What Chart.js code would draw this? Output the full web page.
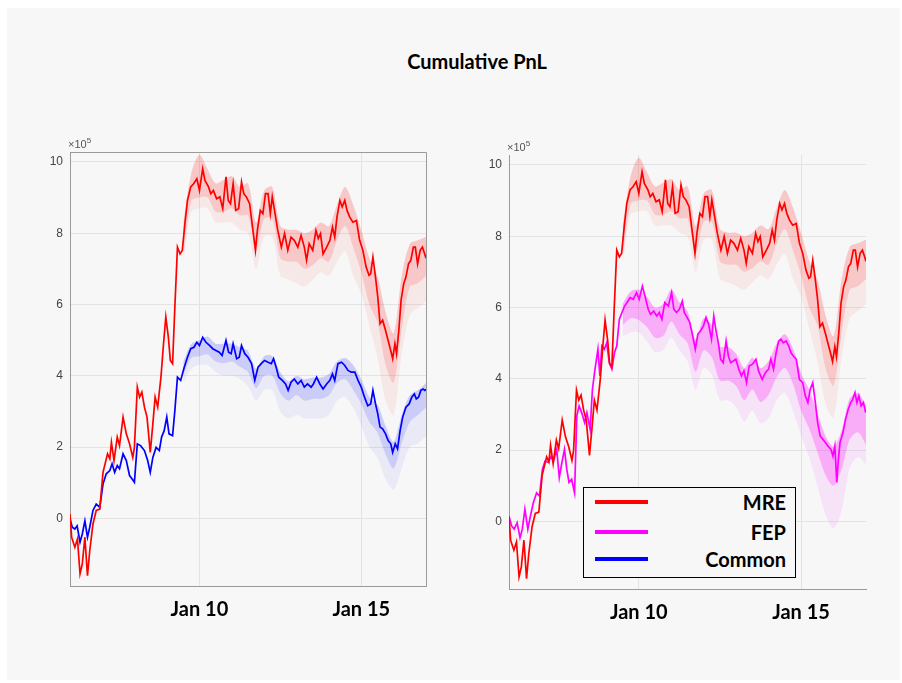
<!DOCTYPE html>
<html>
<head>
<meta charset="utf-8">
<script src="https://cdn.jsdelivr.net/npm/chart.js@4.4.1/dist/chart.umd.min.js"></script>
<style>
    body { margin: 0; background: #fff; width: 902px; height: 683px; position: relative; overflow: hidden; font-family: Lato, "Open Sans", sans-serif; }
    #card { position: absolute; left: 7px; top: 8px; width: 893px; height: 672px; background: #f7f7f7; }
    #title { position: absolute; left: 477px; top: 49px; transform: translateX(-50%); font-weight: bold; font-size: 20px; color: #000; white-space: nowrap; }
    canvas { position: absolute; }
    #leftChart { left: 30px; top: 130px; }
    #rightChart { left: 469px; top: 133px; }
    #legend { position: absolute; left: 583px; top: 487px; width: 213px; height: 91px; box-sizing: border-box; border: 1px solid #000; background: #f7f7f7; }
    #legend .row { position: absolute; left: 0; right: 0; height: 24px; }
    #legend .swatch { position: absolute; left: 11px; top: 10px; width: 53px; height: 4px; }
    #legend .lab { position: absolute; right: 9px; top: 0; line-height: 24px; font-weight: bold; font-size: 20px; color: #000; }
</style>
</head>
<body>
<div id="card"></div>
<div id="title">Cumulative PnL</div>
<canvas id="leftChart" width="410" height="500"></canvas>
<canvas id="rightChart" width="411" height="500"></canvas>
<div id="legend">
    <div class="row" style="top:2px"><span class="swatch" style="background:#ff0000"></span><span class="lab">MRE</span></div>
    <div class="row" style="top:32px"><span class="swatch" style="background:#ff00ff"></span><span class="lab">FEP</span></div>
    <div class="row" style="top:59px"><span class="swatch" style="background:#0000ff"></span><span class="lab">Common</span></div>
</div>
<script>
// values in units of 1e5, x in days of January
const xTickDays = [10, 15];
const xTickLabels = ['Jan 10', 'Jan 15'];
const yTickVals = [0, 2, 4, 6, 8, 10];

const mreDays = [6.00,6.05,6.15,6.23,6.31,6.38,6.46,6.54,6.61,6.71,6.81,6.92,7.02,7.16,7.23,7.28,7.36,7.46,7.53,7.64,
    7.74,7.84,7.94,7.99,8.08,8.15,8.22,8.30,8.38,8.48,8.56,8.63,8.71,8.81,8.89,8.96,9.04,9.10,9.17,9.24,
    9.32,9.40,9.47,9.55,9.63,9.73,9.82,9.92,10.00,10.10,10.17,10.28,10.35,10.43,10.53,10.63,10.72,10.82,10.89,10.96,
    11.04,11.12,11.21,11.30,11.37,11.45,11.55,11.64,11.73,11.79,11.88,11.96,12.04,12.12,12.19,12.25,12.32,12.42,12.53,12.63,
    12.73,12.83,12.93,13.04,13.14,13.24,13.31,13.39,13.50,13.60,13.67,13.74,13.82,13.93,14.03,14.11,14.18,14.25,14.34,14.41,
    14.49,14.56,14.64,14.74,14.85,14.95,15.05,15.15,15.24,15.29,15.36,15.44,15.51,15.58,15.66,15.75,15.83,15.91,15.97,16.04,
    16.09,16.16,16.23,16.31,16.38,16.46,16.53,16.61,16.67,16.74,16.82,16.89,16.96,17.00];
const mreVals = [0.12,-0.53,-0.81,-0.58,-1.56,-1.28,-0.53,-1.61,-0.91,-0.16,0.22,0.26,1.29,1.81,1.67,2.13,1.62,2.28,2.04,2.84,
    2.37,2.09,1.71,1.99,3.68,3.40,3.54,3.12,2.84,1.85,2.65,3.40,3.12,3.96,4.90,5.65,5.08,4.43,4.34,5.93,
    7.61,7.42,7.52,8.27,8.92,9.30,9.39,9.53,9.20,9.81,9.48,9.30,9.11,9.20,8.97,9.02,8.69,9.58,8.92,8.83,
    9.39,8.64,8.69,9.44,9.11,9.02,8.83,8.17,7.52,8.08,8.64,8.55,9.11,9.11,8.55,9.02,8.64,8.08,7.61,7.99,
    7.52,7.89,7.80,7.61,7.94,7.61,7.24,7.71,7.52,8.08,7.85,7.99,7.42,7.61,7.80,8.17,7.89,8.46,8.92,8.74,
    8.92,8.64,8.46,8.31,8.36,7.80,7.52,7.05,6.82,6.86,7.33,6.77,6.21,5.46,5.56,5.27,4.99,4.71,4.48,4.90,
    4.62,5.27,6.12,6.58,6.77,7.14,7.24,7.61,7.61,7.14,7.52,7.61,7.42,7.30];

const commonDays = [6.00,6.07,6.15,6.22,6.31,6.38,6.46,6.54,6.61,6.71,6.81,6.92,7.02,7.12,7.23,7.30,7.38,7.46,7.53,7.64,
    7.74,7.84,7.92,7.99,8.08,8.18,8.30,8.40,8.48,8.56,8.66,8.76,8.83,8.91,8.99,9.06,9.17,9.24,9.32,9.42,
    9.53,9.63,9.73,9.83,9.92,10.00,10.10,10.20,10.31,10.41,10.51,10.61,10.70,10.82,10.90,10.98,11.04,11.15,11.23,11.30,
    11.40,11.50,11.61,11.71,11.81,11.91,12.01,12.12,12.22,12.29,12.37,12.45,12.56,12.66,12.74,12.83,12.93,13.04,13.14,13.24,
    13.34,13.45,13.52,13.62,13.72,13.82,13.93,14.03,14.11,14.18,14.28,14.39,14.49,14.59,14.69,14.80,14.90,15.00,15.10,15.20,
    15.29,15.36,15.44,15.51,15.58,15.66,15.75,15.83,15.91,15.97,16.05,16.12,16.20,16.28,16.38,16.48,16.56,16.64,16.70,16.77,
    16.84,16.91,16.96,17.00];
const commonVals = [-0.02,-0.25,-0.30,-0.21,-0.67,-0.44,-0.07,-0.53,-0.25,0.22,0.40,0.31,0.96,1.25,1.34,1.53,1.29,1.48,1.39,1.81,
    1.62,1.20,1.10,1.01,2.09,2.04,1.90,1.62,1.29,1.71,1.99,1.90,2.28,2.46,2.84,2.37,2.32,3.02,3.96,3.87,
    4.24,4.52,4.76,4.80,4.94,4.85,5.08,4.94,4.85,4.76,4.71,4.66,4.57,4.99,4.66,4.62,4.90,4.48,4.52,4.85,
    4.62,4.52,4.34,3.87,4.24,4.34,4.43,4.38,4.34,4.48,4.24,3.96,3.87,3.77,3.59,3.82,3.91,3.77,3.87,3.68,
    3.77,3.68,3.77,3.96,3.77,3.63,3.77,3.87,4.05,3.87,4.34,4.38,4.29,4.15,4.10,4.10,3.87,3.68,3.40,3.16,
    3.21,3.59,3.21,2.93,2.56,2.51,2.37,2.18,2.09,1.85,2.09,1.95,2.46,2.84,3.12,3.21,3.40,3.49,3.35,3.40,
    3.59,3.63,3.59,3.62];

const fepDays = [6.00,6.08,6.16,6.25,6.34,6.41,6.49,6.58,6.66,6.75,6.85,6.94,7.03,7.11,7.21,7.30,7.37,7.47,7.55,7.63,
    7.71,7.78,7.85,7.93,8.02,8.09,8.16,8.24,8.33,8.40,8.50,8.57,8.65,8.74,8.80,8.86,8.94,9.01,9.09,9.17,
    9.25,9.32,9.40,9.48,9.56,9.64,9.73,9.83,9.93,10.01,10.11,10.19,10.29,10.36,10.46,10.55,10.63,10.71,10.80,10.91,
    11.01,11.08,11.16,11.25,11.34,11.40,11.49,11.57,11.66,11.74,11.82,11.90,11.99,12.07,12.15,12.24,12.31,12.38,12.45,12.52,
    12.60,12.69,12.76,12.83,12.91,12.99,13.08,13.16,13.24,13.32,13.40,13.50,13.61,13.69,13.80,13.90,14.00,14.07,14.15,14.23,
    14.31,14.38,14.45,14.54,14.62,14.69,14.76,14.85,14.95,15.05,15.13,15.21,15.28,15.36,15.44,15.51,15.59,15.67,15.75,15.83,
    15.92,15.98,16.04,16.10,16.14,16.20,16.29,16.37,16.45,16.53,16.59,16.66,16.72,16.78,16.85,16.92,16.99];
const fepVals = [0.15,-0.13,-0.22,-0.04,-0.46,-0.22,0.34,-0.22,0.15,0.52,0.80,0.71,1.46,1.69,1.65,1.83,1.69,2.02,1.23,1.65,
    2.02,1.46,1.09,1.18,0.80,2.96,3.24,3.05,2.77,3.05,2.58,3.70,4.27,4.83,4.08,4.92,4.83,5.01,4.45,4.27,
    4.73,4.92,5.67,5.86,6.04,6.14,6.28,6.23,6.42,6.23,6.60,6.32,5.95,5.81,5.90,5.76,5.86,5.67,6.14,6.04,
    6.42,5.95,5.86,5.95,6.18,5.86,5.72,5.58,5.20,4.83,5.25,5.34,5.48,5.72,5.53,5.11,5.76,5.34,5.01,4.55,
    4.45,5.06,4.64,4.45,4.50,4.55,4.27,4.08,4.22,3.89,4.36,4.41,4.55,4.22,3.98,4.17,4.27,4.55,4.27,4.73,
    5.06,5.11,5.01,5.06,4.92,4.73,4.64,4.55,3.98,3.89,3.52,3.33,3.70,3.89,3.33,2.77,2.39,2.30,2.21,2.11,
    2.02,1.83,2.11,1.09,1.65,2.21,2.49,2.86,3.14,3.33,3.42,3.61,3.33,3.52,3.24,3.33,3.05];

// confidence bands (inner hi/lo, outer lo)
const bandDays = [9.5,9.75,10,10.25,10.5,10.75,11,11.25,11.5,11.75,12,12.25,12.5,12.75,13,13.25,13.5,13.75,14,14.25,
    14.5,14.75,15,15.25,15.5,15.75,16,16.25,16.5,16.75,17];
const mreHi = [8.3,9.7,10.2,9.8,9.4,9.5,9.6,9.3,9.4,8.3,9.2,9.3,8.2,8.1,8.1,8.0,8.1,8.3,8.2,8.8,9.3,8.8,8.1,7.3,6.8,5.8,5.2,6.8,7.7,7.8,7.9];
const mreLo = [7.4,8.9,9.0,9.0,8.6,8.6,8.7,8.5,8.5,7.5,8.4,8.4,7.3,7.2,7.2,7.0,7.1,7.3,7.2,7.8,8.2,7.6,6.9,6.0,5.5,4.3,3.8,5.3,6.5,6.6,6.8];
const mreLo2 = [7.2,8.6,8.7,8.7,8.3,8.3,8.3,8.1,8.0,7.0,7.9,7.9,6.8,6.7,6.6,6.5,6.7,6.9,6.8,7.2,7.5,6.8,6.3,5.4,4.5,3.3,2.9,4.6,5.7,5.9,6.1];
const commonHi = [4.4,4.9,5.0,5.1,4.9,4.9,4.9,4.8,4.7,4.2,4.55,4.55,4.1,3.85,4.0,3.9,3.95,3.95,4.05,4.4,4.5,4.3,3.9,3.4,3.2,2.6,2.15,2.9,3.45,3.6,3.8];
const commonLo = [4.0,4.5,4.55,4.6,4.4,4.35,4.4,4.25,4.1,3.65,4.0,4.0,3.5,3.3,3.45,3.3,3.35,3.35,3.45,3.8,3.9,3.6,3.2,2.7,2.4,1.8,1.4,2.1,2.7,2.9,3.1];
const commonLo2 = [3.8,4.2,4.3,4.3,4.1,4.0,4.0,3.9,3.7,3.3,3.6,3.6,3.0,2.8,2.9,2.8,2.8,2.8,2.9,3.3,3.4,3.1,2.6,2.0,1.7,1.1,0.8,1.4,2.0,2.1,2.3];
const fepHi = [6.1,6.45,6.5,6.3,6.0,6.1,6.5,6.15,5.9,5.1,5.7,5.5,4.9,4.9,4.7,4.3,4.6,4.3,4.5,5.0,5.25,4.85,4.15,3.7,3.05,2.4,2.1,2.55,3.45,3.6,3.25];
const fepLo = [5.5,5.7,5.65,5.45,5.15,5.2,5.6,5.25,5.0,4.2,4.8,4.6,3.95,3.95,3.8,3.4,3.7,3.35,3.55,4.05,4.3,3.85,3.1,2.6,1.95,1.3,1.0,1.45,2.3,2.5,2.15];
const fepLo2 = [5.2,5.3,5.3,5.05,4.75,4.8,5.15,4.8,4.5,3.7,4.3,4.1,3.4,3.4,3.2,2.8,3.1,2.75,2.9,3.4,3.6,3.1,2.4,1.8,1.0,0.2,-0.2,0.3,1.5,1.8,1.6];

const xMin = 6.0, xMax = 17.0, yMin = -1.9, yMax = 10.28;
const axisColor = '#9a9a9a';
const gridColor = '#e3e3e3';

function pts(days, vals) {
    return days.map((d, i) => ({ x: d, y: vals[i] }));
}

function lineSet(days, vals, color) {
    return { data: pts(days, vals), borderColor: color, borderWidth: 1.7, pointRadius: 0, fill: false, tension: 0 };
}

function bandSets(hi, lo, lo2, inner, outer) {
    const base = { borderWidth: 0, pointRadius: 0, tension: 0.3 };
    return [
        { ...base, data: pts(bandDays, hi), fill: false },
        { ...base, data: pts(bandDays, lo2), fill: '-1', backgroundColor: outer },
        { ...base, data: pts(bandDays, lo), fill: '-2', backgroundColor: inner }
    ];
}

const framePlugin = {
    id: 'frame',
    afterDraw(chart, args, opts) {
        const { ctx, chartArea: a } = chart;
        ctx.save();
        if (opts.box) {
            ctx.strokeStyle = axisColor;
            ctx.lineWidth = 1;
            ctx.beginPath();
            ctx.moveTo(a.left, a.top + 0.5);
            ctx.lineTo(a.right + 0.5, a.top + 0.5);
            ctx.lineTo(a.right + 0.5, a.bottom);
            ctx.stroke();
        }
        ctx.fillStyle = '#555';
        ctx.font = '11px "Liberation Sans"';
        ctx.fillText('×10', a.left - 2, a.top - 4);
        const w = ctx.measureText('×10').width;
        ctx.font = '8px "Liberation Sans"';
        ctx.fillText('5', a.left - 2 + w, a.top - 9);
        ctx.restore();
    }
};

function makePanel(id, datasets, box) {
    return new Chart(document.getElementById(id), {
        type: 'line',
        data: { datasets: datasets },
        options: {
            responsive: false,
            animation: false,
            layout: { padding: { top: 22, right: 14, left: 0, bottom: 0 } },
            plugins: { legend: { display: false }, tooltip: { enabled: false }, frame: { box: box } },
            scales: {
                x: {
                    type: 'linear', min: xMin, max: xMax,
                    afterBuildTicks: s => { s.ticks = xTickDays.map(v => ({ value: v })); },
                    afterFit: s => { s.height = 44; },
                    grid: { color: gridColor, drawTicks: false },
                    border: { color: axisColor, width: 1 },
                    ticks: {
                        padding: 12, maxRotation: 0, color: '#000',
                        font: { family: 'Lato', weight: 'bold', size: 20 },
                        callback: v => xTickLabels[xTickDays.indexOf(v)]
                    }
                },
                y: {
                    type: 'linear', min: yMin, max: yMax,
                    afterBuildTicks: s => { s.ticks = yTickVals.map(v => ({ value: v })); },
                    afterFit: s => { s.width = 40; },
                    grid: { color: gridColor, drawTicks: false },
                    border: { color: axisColor, width: 1 },
                    ticks: { padding: 7, color: '#444', font: { family: 'Liberation Sans', size: 12 }, callback: v => v }
                }
            }
        },
        plugins: [framePlugin]
    });
}

makePanel('leftChart', [
    lineSet(mreDays, mreVals, '#ff0000'),
    lineSet(commonDays, commonVals, '#0000ff'),
    ...bandSets(mreHi, mreLo, mreLo2, 'rgba(255,0,0,0.14)', 'rgba(255,0,0,0.06)'),
    ...bandSets(commonHi, commonLo, commonLo2, 'rgba(0,0,255,0.13)', 'rgba(0,0,255,0.05)')
], true);

makePanel('rightChart', [
    lineSet(mreDays, mreVals, '#ff0000'),
    lineSet(fepDays, fepVals, '#ff00ff'),
    ...bandSets(mreHi, mreLo, mreLo2, 'rgba(255,0,0,0.14)', 'rgba(255,0,0,0.06)'),
    ...bandSets(fepHi, fepLo, fepLo2, 'rgba(255,0,255,0.24)', 'rgba(255,0,255,0.08)')
], false);
</script>
</body>
</html>
